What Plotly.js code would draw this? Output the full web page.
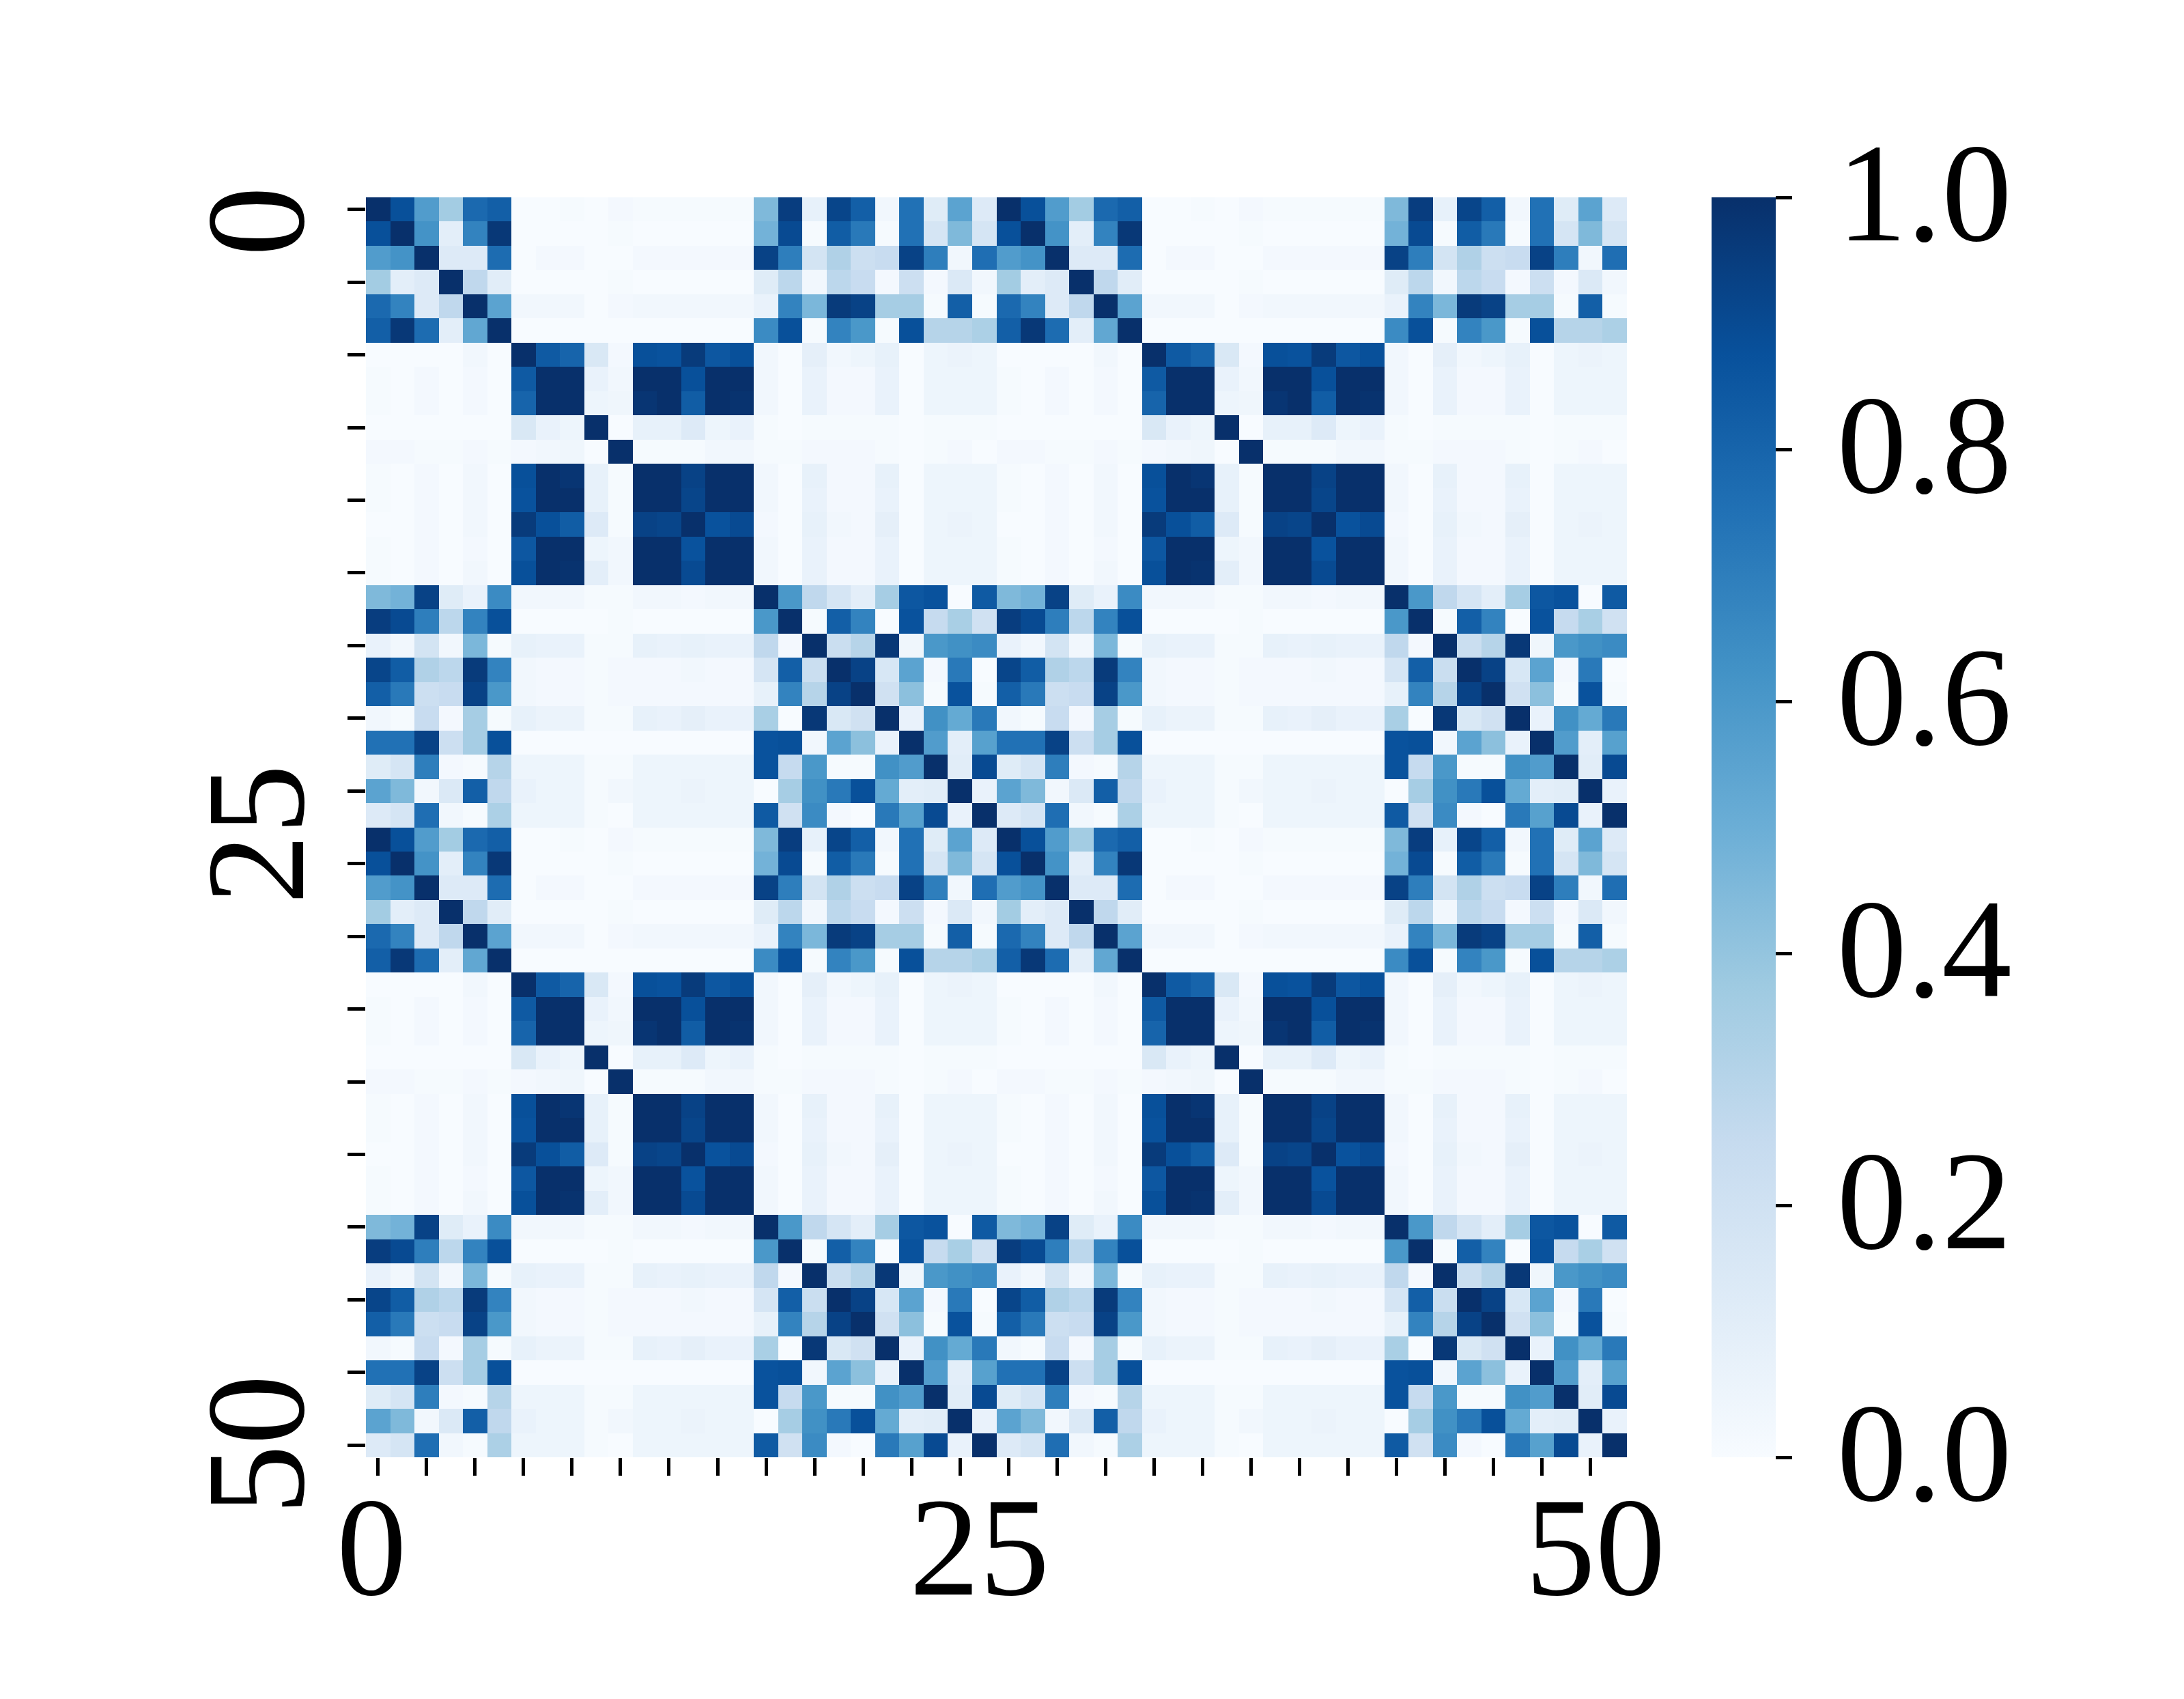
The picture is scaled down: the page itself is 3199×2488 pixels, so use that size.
<!DOCTYPE html>
<html><head><meta charset="utf-8">
<script src="https://cdn.plot.ly/plotly-3.0.1.min.js"></script>
<style>html,body{margin:0;padding:0;background:#fff}#c{width:3199px;height:2488px}
.xaxislayer-above g.xtick{transform:translate(0,-5px)}
.yaxislayer-above g.ytick{transform:translate(0,48px)}
.infolayer g[class$="tick"]{transform:translate(25px,-9px)}
</style>
</head><body><div id="c"></div>
<script>
const indices = [0,1,2,3,4,5,6,7,8,9,10,11,12,13,14,15,16,17,18,19,20,21,22,23,24,25,26,27,28,29,30,31,32,33,34,35,36,37,38,39,40,41,42,43,44,45,46,47,48,49,50,51];
const xTickMarks = [0,2,4,6,8,10,12,14,16,18,20,22,24,26,28,30,32,34,36,38,40,42,44,46,48,50];
const yTickMarks = [0,3,6,9,12,15,18,21,24,27,30,33,36,39,42,45,48,51];
const xLabelPositions = [-0.27,24.8,50.2];
const yLabelPositions = [0,25.3,50.5];
const axisLabels = ["0","25","50"];
const colorbarTicks = [0,0.2,0.4,0.6,0.8,1.0];
const colorbarLabels = ["0.0","0.2","0.4","0.6","0.8","1.0"];
const blues = ["#f7fbff","#deebf7","#c6dbef","#9ecae1","#6baed6","#4292c6","#2171b5","#08519c","#08306b"];
const similarity = [
[1,.88,.58,.36,.78,.82,0,0,.01,0,.02,.01,.01,.01,.01,.01,.45,.95,.08,.92,.82,.03,.75,.12,.55,.13,1,.88,.58,.36,.78,.82,0,0,.01,0,.02,.01,.01,.01,.01,.01,.45,.95,.08,.92,.82,.03,.75,.12,.55,.13],
[.88,1,.62,.1,.68,.97,0,0,0,0,.01,0,0,0,0,0,.48,.9,.01,.83,.72,.01,.75,.17,.45,.17,.88,1,.62,.1,.68,.97,0,0,0,0,.01,0,0,0,0,0,.48,.9,.01,.83,.72,.01,.75,.17,.45,.17],
[.58,.62,1,.13,.13,.77,0,.02,.02,0,0,.02,.02,.02,.02,.02,.93,.7,.18,.32,.22,.24,.93,.7,.03,.76,.58,.62,1,.13,.13,.77,0,.02,.02,0,0,.02,.02,.02,.02,.02,.93,.7,.18,.32,.22,.24,.93,.7,.03,.76],
[.36,.1,.13,1,.27,.11,0,0,0,0,.01,0,0,0,0,0,.12,.28,.03,.28,.24,.02,.22,.02,.14,.03,.36,.1,.13,1,.27,.11,0,0,0,0,.01,0,0,0,0,0,.12,.28,.03,.28,.24,.02,.22,.02,.14,.03],
[.78,.68,.13,.27,1,.55,.03,.03,.03,0,.02,.03,.03,.03,.03,.03,.07,.68,.46,.96,.93,.35,.35,.01,.82,.01,.78,.68,.13,.27,1,.55,.03,.03,.03,0,.02,.03,.03,.03,.03,.03,.07,.68,.46,.96,.93,.35,.35,.01,.82,.01],
[.82,.97,.77,.1,.53,1,0,0,0,0,0,0,0,0,0,0,.65,.88,.01,.68,.6,.01,.88,.3,.3,.33,.82,.97,.77,.1,.53,1,0,0,0,0,0,0,0,0,0,0,.65,.88,.01,.68,.6,.01,.88,.3,.3,.33],
[0,0,0,0,.03,0,1,.84,.8,.15,.02,.88,.87,.96,.85,.88,.03,0,.09,.03,.05,.08,0,.05,.06,.05,0,0,0,0,.03,0,1,.84,.8,.15,.02,.88,.87,.96,.85,.88,.03,0,.09,.03,.05,.08,0,.05,.06,.05],
[.01,0,.02,0,.02,0,.84,1,1,.07,.03,1,1,.88,1,1,.03,0,.07,.02,.02,.07,0,.05,.05,.05,.01,0,.02,0,.02,0,.84,1,1,.07,.03,1,1,.88,1,1,.03,0,.07,.02,.02,.07,0,.05,.05,.05],
[.01,0,.02,0,.02,0,.8,1,1,.05,.04,.98,1,.83,1,.99,.03,0,.07,.02,.02,.07,0,.05,.05,.05,.01,0,.02,0,.02,0,.8,1,1,.05,.04,.98,1,.83,1,.99,.03,0,.07,.02,.02,.07,0,.05,.05,.05],
[0,0,0,0,0,0,.15,.07,.05,1,0,.08,.08,.13,.05,.07,.01,0,.01,.01,.01,.01,0,.01,.01,.01,0,0,0,0,0,0,.15,.07,.05,1,0,.08,.08,.13,.05,.07,.01,0,.01,.01,.01,.01,0,.01,.01,.01],
[.02,.02,.01,.01,.02,.01,.02,.03,.04,0,1,.01,.01,.01,.03,.03,.01,.01,.02,.02,.02,.01,0,.01,.02,0,.02,.02,.01,.01,.02,.01,.02,.03,.04,0,1,.01,.01,.01,.03,.03,.01,.01,.02,.02,.02,.01,0,.01,.02,0],
[.01,0,.02,0,.03,0,.88,1,.98,.08,.01,1,1,.93,1,1,.03,0,.08,.02,.02,.08,0,.05,.05,.05,.01,0,.02,0,.03,0,.88,1,.98,.08,.01,1,1,.93,1,1,.03,0,.08,.02,.02,.08,0,.05,.05,.05],
[.01,0,.02,0,.03,0,.87,1,1,.08,.01,1,1,.92,1,1,.03,0,.07,.02,.02,.07,0,.05,.05,.05,.01,0,.02,0,.03,0,.87,1,1,.08,.01,1,1,.92,1,1,.03,0,.07,.02,.02,.07,0,.05,.05,.05],
[0,0,.02,0,.03,0,.96,.88,.83,.13,.01,.93,.92,1,.87,.9,.02,0,.08,.03,.02,.09,0,.05,.06,.05,0,0,.02,0,.03,0,.96,.88,.83,.13,.01,.93,.92,1,.87,.9,.02,0,.08,.03,.02,.09,0,.05,.06,.05],
[.01,0,.02,0,.02,0,.85,1,1,.05,.03,1,1,.87,1,1,.03,0,.07,.02,.02,.07,0,.05,.05,.05,.01,0,.02,0,.02,0,.85,1,1,.05,.03,1,1,.87,1,1,.03,0,.07,.02,.02,.07,0,.05,.05,.05],
[.01,0,.02,0,.03,0,.88,1,.99,.1,.03,1,1,.9,1,1,.03,0,.07,.02,.02,.07,0,.05,.05,.05,.01,0,.02,0,.03,0,.88,1,.99,.1,.03,1,1,.9,1,1,.03,0,.07,.02,.02,.07,0,.05,.05,.05],
[.45,.48,.93,.12,.07,.65,.03,.03,.03,.01,.01,.03,.03,.02,.03,.03,1,.6,.27,.17,.1,.35,.85,.87,0,.84,.45,.48,.93,.12,.07,.65,.03,.03,.03,.01,.01,.03,.03,.02,.03,.03,1,.6,.27,.17,.1,.35,.85,.87,0,.84],
[.95,.9,.7,.28,.68,.88,0,0,0,0,.01,0,0,0,0,0,.6,1,.01,.82,.68,0,.87,.25,.34,.2,.95,.9,.7,.28,.68,.88,0,0,0,0,.01,0,0,0,0,0,.6,1,.01,.82,.68,0,.87,.25,.34,.2],
[.07,.03,.18,.03,.46,.01,.08,.07,.07,.01,.01,.08,.07,.08,.07,.07,.27,.02,1,.23,.3,.97,.04,.6,.63,.65,.07,.03,.18,.03,.46,.01,.08,.07,.07,.01,.01,.08,.07,.08,.07,.07,.27,.02,1,.23,.3,.97,.04,.6,.63,.65],
[.92,.83,.32,.28,.96,.68,.03,.02,.02,.01,.02,.02,.02,.03,.02,.02,.17,.82,.23,1,.93,.16,.55,.02,.72,0,.92,.83,.32,.28,.96,.68,.03,.02,.02,.01,.02,.02,.02,.03,.02,.02,.17,.82,.23,1,.93,.16,.55,.02,.72,0],
[.82,.72,.22,.24,.93,.6,.03,.02,.02,.01,.02,.02,.02,.02,.02,.02,.08,.68,.3,.93,1,.2,.42,.01,.87,.01,.82,.72,.22,.24,.93,.6,.03,.02,.02,.01,.02,.02,.02,.02,.02,.02,.08,.68,.3,.93,1,.2,.42,.01,.87,.01],
[.03,.01,.24,.02,.35,.01,.08,.06,.06,.01,.01,.08,.07,.09,.07,.07,.34,0,.97,.15,.2,1,.07,.63,.52,.72,.03,.01,.24,.02,.35,.01,.08,.06,.06,.01,.01,.08,.07,.09,.07,.07,.34,0,.97,.15,.2,1,.07,.63,.52,.72],
[.75,.75,.93,.22,.35,.88,0,0,0,0,0,0,0,0,0,0,.87,.88,.03,.55,.42,.07,1,.58,.1,.56,.75,.75,.93,.22,.35,.88,0,0,0,0,0,0,0,0,0,0,.87,.88,.03,.55,.42,.07,1,.58,.1,.56],
[.12,.17,.7,.02,.01,.3,.05,.05,.05,.01,.01,.05,.05,.05,.05,.05,.87,.25,.6,.01,.01,.63,.58,1,.11,.9,.12,.17,.7,.02,.01,.3,.05,.05,.05,.01,.01,.05,.05,.05,.05,.05,.87,.25,.6,.01,.01,.63,.58,1,.11,.9],
[.55,.45,.03,.14,.82,.27,.07,.05,.05,.01,.03,.05,.05,.06,.05,.05,0,.35,.63,.72,.88,.52,.1,.11,1,.07,.55,.45,.03,.14,.82,.27,.07,.05,.05,.01,.03,.05,.05,.06,.05,.05,0,.35,.63,.72,.88,.52,.1,.11,1,.07],
[.13,.17,.76,.03,.01,.33,.05,.05,.05,.01,0,.05,.05,.05,.05,.05,.84,.2,.65,.02,0,.72,.56,.9,.07,1,.13,.17,.76,.03,.01,.33,.05,.05,.05,.01,0,.05,.05,.05,.05,.05,.84,.2,.65,.02,0,.72,.56,.9,.07,1],
[1,.88,.58,.36,.78,.82,0,0,.01,0,.02,.01,.01,.01,.01,.01,.45,.95,.08,.92,.82,.03,.75,.12,.55,.13,1,.88,.58,.36,.78,.82,0,0,.01,0,.02,.01,.01,.01,.01,.01,.45,.95,.08,.92,.82,.03,.75,.12,.55,.13],
[.88,1,.62,.1,.68,.97,0,0,0,0,.01,0,0,0,0,0,.48,.9,.01,.83,.72,.01,.75,.17,.45,.17,.88,1,.62,.1,.68,.97,0,0,0,0,.01,0,0,0,0,0,.48,.9,.01,.83,.72,.01,.75,.17,.45,.17],
[.58,.62,1,.13,.13,.77,0,.02,.02,0,0,.02,.02,.02,.02,.02,.93,.7,.18,.32,.22,.24,.93,.7,.03,.76,.58,.62,1,.13,.13,.77,0,.02,.02,0,0,.02,.02,.02,.02,.02,.93,.7,.18,.32,.22,.24,.93,.7,.03,.76],
[.36,.1,.13,1,.27,.11,0,0,0,0,.01,0,0,0,0,0,.12,.28,.03,.28,.24,.02,.22,.02,.14,.03,.36,.1,.13,1,.27,.11,0,0,0,0,.01,0,0,0,0,0,.12,.28,.03,.28,.24,.02,.22,.02,.14,.03],
[.78,.68,.13,.27,1,.55,.03,.03,.03,0,.02,.03,.03,.03,.03,.03,.07,.68,.46,.96,.93,.35,.35,.01,.82,.01,.78,.68,.13,.27,1,.55,.03,.03,.03,0,.02,.03,.03,.03,.03,.03,.07,.68,.46,.96,.93,.35,.35,.01,.82,.01],
[.82,.97,.77,.1,.53,1,0,0,0,0,0,0,0,0,0,0,.65,.88,.01,.68,.6,.01,.88,.3,.3,.33,.82,.97,.77,.1,.53,1,0,0,0,0,0,0,0,0,0,0,.65,.88,.01,.68,.6,.01,.88,.3,.3,.33],
[0,0,0,0,.03,0,1,.84,.8,.15,.02,.88,.87,.96,.85,.88,.03,0,.09,.03,.05,.08,0,.05,.06,.05,0,0,0,0,.03,0,1,.84,.8,.15,.02,.88,.87,.96,.85,.88,.03,0,.09,.03,.05,.08,0,.05,.06,.05],
[.01,0,.02,0,.02,0,.84,1,1,.07,.03,1,1,.88,1,1,.03,0,.07,.02,.02,.07,0,.05,.05,.05,.01,0,.02,0,.02,0,.84,1,1,.07,.03,1,1,.88,1,1,.03,0,.07,.02,.02,.07,0,.05,.05,.05],
[.01,0,.02,0,.02,0,.8,1,1,.05,.04,.98,1,.83,1,.99,.03,0,.07,.02,.02,.07,0,.05,.05,.05,.01,0,.02,0,.02,0,.8,1,1,.05,.04,.98,1,.83,1,.99,.03,0,.07,.02,.02,.07,0,.05,.05,.05],
[0,0,0,0,0,0,.15,.07,.05,1,0,.08,.08,.13,.05,.07,.01,0,.01,.01,.01,.01,0,.01,.01,.01,0,0,0,0,0,0,.15,.07,.05,1,0,.08,.08,.13,.05,.07,.01,0,.01,.01,.01,.01,0,.01,.01,.01],
[.02,.02,.01,.01,.02,.01,.02,.03,.04,0,1,.01,.01,.01,.03,.03,.01,.01,.02,.02,.02,.01,0,.01,.02,0,.02,.02,.01,.01,.02,.01,.02,.03,.04,0,1,.01,.01,.01,.03,.03,.01,.01,.02,.02,.02,.01,0,.01,.02,0],
[.01,0,.02,0,.03,0,.88,1,.98,.08,.01,1,1,.93,1,1,.03,0,.08,.02,.02,.08,0,.05,.05,.05,.01,0,.02,0,.03,0,.88,1,.98,.08,.01,1,1,.93,1,1,.03,0,.08,.02,.02,.08,0,.05,.05,.05],
[.01,0,.02,0,.03,0,.87,1,1,.08,.01,1,1,.92,1,1,.03,0,.07,.02,.02,.07,0,.05,.05,.05,.01,0,.02,0,.03,0,.87,1,1,.08,.01,1,1,.92,1,1,.03,0,.07,.02,.02,.07,0,.05,.05,.05],
[0,0,.02,0,.03,0,.96,.88,.83,.13,.01,.93,.92,1,.87,.9,.02,0,.08,.03,.02,.09,0,.05,.06,.05,0,0,.02,0,.03,0,.96,.88,.83,.13,.01,.93,.92,1,.87,.9,.02,0,.08,.03,.02,.09,0,.05,.06,.05],
[.01,0,.02,0,.02,0,.85,1,1,.05,.03,1,1,.87,1,1,.03,0,.07,.02,.02,.07,0,.05,.05,.05,.01,0,.02,0,.02,0,.85,1,1,.05,.03,1,1,.87,1,1,.03,0,.07,.02,.02,.07,0,.05,.05,.05],
[.01,0,.02,0,.03,0,.88,1,.99,.1,.03,1,1,.9,1,1,.03,0,.07,.02,.02,.07,0,.05,.05,.05,.01,0,.02,0,.03,0,.88,1,.99,.1,.03,1,1,.9,1,1,.03,0,.07,.02,.02,.07,0,.05,.05,.05],
[.45,.48,.93,.12,.07,.65,.03,.03,.03,.01,.01,.03,.03,.02,.03,.03,1,.6,.27,.17,.1,.35,.85,.87,0,.84,.45,.48,.93,.12,.07,.65,.03,.03,.03,.01,.01,.03,.03,.02,.03,.03,1,.6,.27,.17,.1,.35,.85,.87,0,.84],
[.95,.9,.7,.28,.68,.88,0,0,0,0,.01,0,0,0,0,0,.6,1,.01,.82,.68,0,.87,.25,.34,.2,.95,.9,.7,.28,.68,.88,0,0,0,0,.01,0,0,0,0,0,.6,1,.01,.82,.68,0,.87,.25,.34,.2],
[.07,.03,.18,.03,.46,.01,.08,.07,.07,.01,.01,.08,.07,.08,.07,.07,.27,.02,1,.23,.3,.97,.04,.6,.63,.65,.07,.03,.18,.03,.46,.01,.08,.07,.07,.01,.01,.08,.07,.08,.07,.07,.27,.02,1,.23,.3,.97,.04,.6,.63,.65],
[.92,.83,.32,.28,.96,.68,.03,.02,.02,.01,.02,.02,.02,.03,.02,.02,.17,.82,.23,1,.93,.16,.55,.02,.72,0,.92,.83,.32,.28,.96,.68,.03,.02,.02,.01,.02,.02,.02,.03,.02,.02,.17,.82,.23,1,.93,.16,.55,.02,.72,0],
[.82,.72,.22,.24,.93,.6,.03,.02,.02,.01,.02,.02,.02,.02,.02,.02,.08,.68,.3,.93,1,.2,.42,.01,.87,.01,.82,.72,.22,.24,.93,.6,.03,.02,.02,.01,.02,.02,.02,.02,.02,.02,.08,.68,.3,.93,1,.2,.42,.01,.87,.01],
[.03,.01,.24,.02,.35,.01,.08,.06,.06,.01,.01,.08,.07,.09,.07,.07,.34,0,.97,.15,.2,1,.07,.63,.52,.72,.03,.01,.24,.02,.35,.01,.08,.06,.06,.01,.01,.08,.07,.09,.07,.07,.34,0,.97,.15,.2,1,.07,.63,.52,.72],
[.75,.75,.93,.22,.35,.88,0,0,0,0,0,0,0,0,0,0,.87,.88,.03,.55,.42,.07,1,.58,.1,.56,.75,.75,.93,.22,.35,.88,0,0,0,0,0,0,0,0,0,0,.87,.88,.03,.55,.42,.07,1,.58,.1,.56],
[.12,.17,.7,.02,.01,.3,.05,.05,.05,.01,.01,.05,.05,.05,.05,.05,.87,.25,.6,.01,.01,.63,.58,1,.11,.9,.12,.17,.7,.02,.01,.3,.05,.05,.05,.01,.01,.05,.05,.05,.05,.05,.87,.25,.6,.01,.01,.63,.58,1,.11,.9],
[.55,.45,.03,.14,.82,.27,.07,.05,.05,.01,.03,.05,.05,.06,.05,.05,0,.35,.63,.72,.88,.52,.1,.11,1,.07,.55,.45,.03,.14,.82,.27,.07,.05,.05,.01,.03,.05,.05,.06,.05,.05,0,.35,.63,.72,.88,.52,.1,.11,1,.07],
[.13,.17,.76,.03,.01,.33,.05,.05,.05,.01,0,.05,.05,.05,.05,.05,.84,.2,.65,.02,0,.72,.56,.9,.07,1,.13,.17,.76,.03,.01,.33,.05,.05,.05,.01,0,.05,.05,.05,.05,.05,.84,.2,.65,.02,0,.72,.56,.9,.07,1]
];

const FONT = "Liberation Serif";
const colorscale = blues.map((c,i)=>[i/(blues.length-1),c]);
const plotLeft=536, plotRight=2383, plotTop=289, plotBottom=2134;

const trace = {
  type:"heatmap", x:indices, y:indices, z:similarity, zmin:0, zmax:1,
  colorscale:colorscale, xgap:0, ygap:0, hoverinfo:"skip",
  colorbar:{
    x:(2507-plotLeft)/(plotRight-plotLeft), xanchor:"left", xref:"paper",
    y:0.5, yanchor:"middle", yref:"paper", len:1, lenmode:"fraction",
    thickness:94, thicknessmode:"pixels", xpad:0, ypad:0,
    outlinewidth:0, borderwidth:0,
    tickmode:"array", tickvals:colorbarTicks, ticktext:colorbarLabels,
    ticks:"outside", ticklen:24, tickwidth:5, tickcolor:"#000",
    tickfont:{family:FONT,size:205,color:"#000"}
  }
};
const layout = {
  width:3199, height:2488, paper_bgcolor:"#fff", plot_bgcolor:"#fff", showlegend:false,
  margin:{l:plotLeft,r:3199-plotRight,t:plotTop,b:2488-plotBottom,pad:0,autoexpand:false},
  xaxis:{
    range:[-0.5,51.5], showgrid:false, zeroline:false, showline:false, fixedrange:true, automargin:false,
    tickmode:"array", tickvals:xLabelPositions, ticktext:axisLabels,
    ticks:"", ticklen:0, ticklabelstandoff:0,
    tickfont:{family:FONT,size:205,color:"#000"}, tickangle:0,
    minor:{tickmode:"array", tickvals:xTickMarks, ticks:"outside", ticklen:26, tickwidth:5, tickcolor:"#000", showgrid:false}
  },
  yaxis:{
    range:[51.5,-0.5], showgrid:false, zeroline:false, showline:false, fixedrange:true, automargin:false,
    tickmode:"array", tickvals:yLabelPositions, ticktext:axisLabels,
    ticks:"", ticklen:0, ticklabelstandoff:50,
    tickfont:{family:FONT,size:205,color:"#000"}, tickangle:-90,
    minor:{tickmode:"array", tickvals:yTickMarks, ticks:"outside", ticklen:26, tickwidth:5, tickcolor:"#000", showgrid:false}
  }
};
Plotly.newPlot("c",[trace],layout,{displayModeBar:false,staticPlot:true});
</script></body></html>
